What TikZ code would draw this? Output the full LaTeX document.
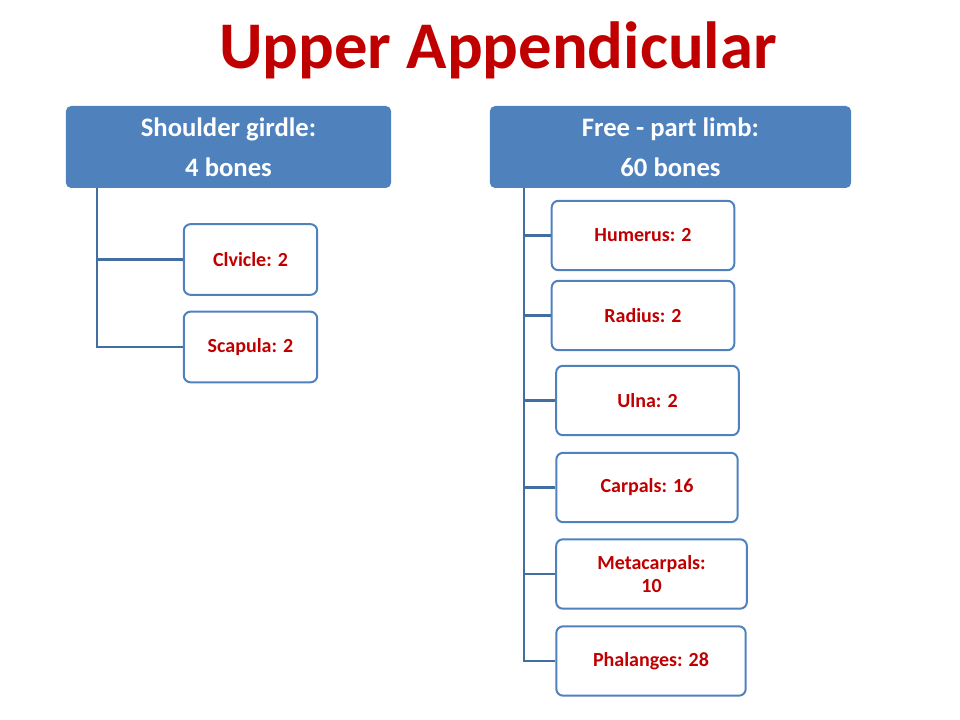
\documentclass[tikz,border=0pt]{standalone}
\usepackage{fontspec}
\setmainfont{Carlito}
\usetikzlibrary{positioning}
\definecolor{hdrblue}{HTML}{4F81BD}
\definecolor{txtred}{HTML}{C00000}
\tikzset{
  header/.style={fill=hdrblue,rounded corners=4pt,text=white,font=\bfseries\fontsize{20}{30}\selectfont,align=center,inner sep=0pt},
  leaf/.style={draw=hdrblue,line width=1.5pt,fill=white,rounded corners=5pt,text=txtred,font=\bfseries\fontsize{15}{17}\selectfont,align=center,inner sep=0pt},
  branch/.style={draw=hdrblue!85!black,line width=1.6pt}
}
\begin{document}
\begin{tikzpicture}[x=0.75pt,y=-0.75pt]
  \useasboundingbox (0,0) rectangle (960,720);
  \node[text=txtred,font=\bfseries\fontsize{50}{56}\selectfont] (title) at (498,50) {Upper Appendicular};
  % left branch
  \node[header,minimum width=244pt,minimum height=61.5pt] (sg) at (228.5,147) {Shoulder girdle:\\4 bones};
  \node[leaf,minimum width=100pt,minimum height=53pt] (clv) at (250.5,259.5) {Clvicle: 2};
  \node[leaf,minimum width=100pt,minimum height=53pt] (scp) at (250.5,347) {Scapula: 2};
  \coordinate (sgtop) at (97,188);
  \draw[branch] (sgtop) |- (scp.west);
  \draw[branch] (97,259.5) -- (clv.west);
  % right branch
  \node[header,minimum width=271pt,minimum height=61.5pt] (fl) at (670.5,147) {Free - part limb:\\60 bones};
  \node[leaf,minimum width=137pt,minimum height=52pt] (hum) at (643,235.5) {Humerus: 2};
  \node[leaf,minimum width=137pt,minimum height=52pt] (rad) at (643,315.5) {Radius: 2};
  \node[leaf,minimum width=137pt,minimum height=52pt] (uln) at (647.5,400.5) {Ulna: 2};
  \node[leaf,minimum width=136pt,minimum height=52pt] (crp) at (647,487.5) {Carpals: 16};
  \node[leaf,minimum width=143pt,minimum height=52pt] (mcp) at (651.5,574) {Metacarpals:\\10};
  \node[leaf,minimum width=142pt,minimum height=52pt] (phl) at (651,661) {Phalanges: 28};
  \coordinate (fltop) at (524,188);
  \draw[branch] (fltop) |- (phl.west);
  \foreach \n in {hum,rad,uln,crp,mcp}
    \draw[branch] (\n.west) -- (\n.west -| fltop);
\end{tikzpicture}
\end{document}
